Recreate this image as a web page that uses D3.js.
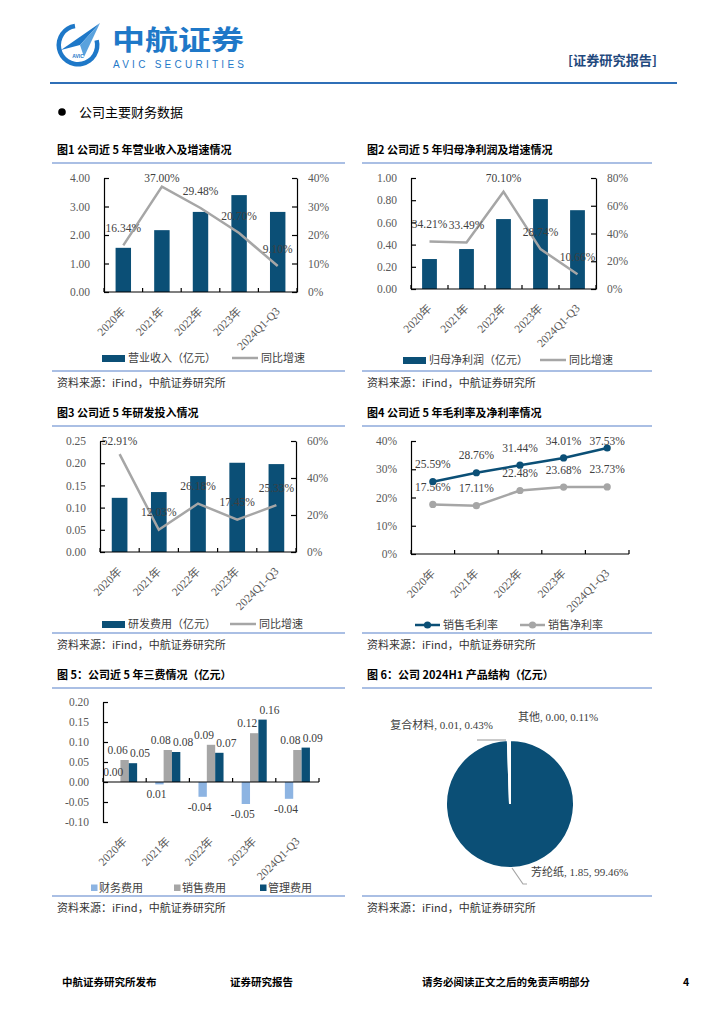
<!DOCTYPE html>
<html>
<head>
<meta charset="utf-8">
<script src="https://cdn.jsdelivr.net/npm/d3@7"></script>
<style>
  body { margin: 0; background: #fff; }
  svg { display: block; }
</style>
</head>
<body>
<svg id="page" width="724" height="1024"></svg>
<script>
// ---- data ----
const years = ["2020年", "2021年", "2022年", "2023年", "2024Q1-Q3"];

const revenue = [1.55, 2.17, 2.81, 3.40, 2.81];          // 营业收入（亿元）
const revenueGrowth = [16.34, 37.00, 29.48, 20.70, 9.10]; // 同比增速 %

const netProfit = [0.27, 0.36, 0.63, 0.81, 0.71];          // 归母净利润（亿元）
const netProfitGrowth = [34.21, 33.49, 70.10, 28.74, 10.66];

const rdExpense = [0.122, 0.135, 0.171, 0.201, 0.198];     // 研发费用（亿元）
const rdGrowth = [52.91, 12.03, 26.18, 17.45, 25.33];

const grossMargin = [25.59, 28.76, 31.44, 34.01, 37.53];   // 销售毛利率 %
const netMargin = [17.56, 17.11, 22.48, 23.68, 23.73];     // 销售净利率 %

const finExpense = [0.00, -0.006, -0.037, -0.055, -0.042]; // 财务费用
const saleExpense = [0.055, 0.080, 0.093, 0.122, 0.080];   // 销售费用
const mgmtExpense = [0.047, 0.075, 0.073, 0.156, 0.086];   // 管理费用
const finText = ["0.00", "0.01", "-0.04", "-0.05", "-0.04"];
const saleText = ["0.06", "0.08", "0.09", "0.12", "0.08"];
const mgmtText = ["0.05", "0.08", "0.07", "0.16", "0.09"];

const pieNames = ["芳纶纸", "复合材料", "其他"];
const pieValues = ["1.85", "0.01", "0.00"];
const piePct = [99.46, 0.43, 0.11];

// ---- styles ----
const svg = d3.select("#page");
const CN = "'Noto Sans CJK SC', sans-serif";
const NUM = "'Liberation Serif', 'Noto Sans CJK SC', serif";
const dark = "#0b4f76";
const gray = "#a6a6a6";
const lightBlue = "#8db4e2";
const ruleColor = "#8eaadb";

// ---- page header ----
const logo = svg.append("g");
logo.append("path")
    .attr("transform", "translate(78,45)")
    .attr("d", d3.arc().innerRadius(17).outerRadius(21.5).startAngle(Math.PI * 0.42).endAngle(Math.PI * 1.95)())
    .attr("fill", "#1e78c8");
logo.append("path").attr("d", "M61,50 L100,23 L80,45 Z").attr("fill", "#1e78c8");
logo.append("path").attr("d", "M80,45 L100,23 L84,57 Z").attr("fill", "#5aa2dd");
logo.append("text").attr("x", 78).attr("y", 58).attr("text-anchor", "middle")
    .attr("font-family", "'Liberation Sans', sans-serif").attr("font-size", 5).attr("font-weight", "bold")
    .attr("fill", "#1e78c8").text("AVIC");

svg.append("text").attr("x", 112).attr("y", 50)
    .attr("font-family", CN).attr("font-weight", "bold").attr("font-size", 27)
    .attr("textLength", 132).attr("lengthAdjust", "spacingAndGlyphs")
    .attr("fill", "#1e78c8").text("中航证券");
svg.append("text").attr("x", 113).attr("y", 68)
    .attr("font-family", "'Liberation Sans', sans-serif").attr("font-size", 10)
    .attr("textLength", 131).attr("fill", "#1e78c8").text("AVIC SECURITIES");
svg.append("text").attr("x", 568).attr("y", 65)
    .attr("font-family", CN).attr("font-weight", "bold").attr("font-size", 13)
    .attr("textLength", 89).attr("lengthAdjust", "spacingAndGlyphs")
    .attr("fill", "#1f497d").text("[证券研究报告]");
svg.append("line").attr("x1", 50).attr("x2", 677).attr("y1", 83).attr("y2", 83)
    .attr("stroke", "#2f6fb7").attr("stroke-width", 2);

svg.append("circle").attr("cx", 62).attr("cy", 112).attr("r", 3.8).attr("fill", "#000");
svg.append("text").attr("x", 79).attr("y", 117)
    .attr("font-family", CN).attr("font-size", 13).text("公司主要财务数据");

// ---- helpers ----
function frame(x0, x1, titleY, title, srcY) {
    svg.append("text").attr("x", x0 + 5).attr("y", titleY).attr("dy", "0.35em")
        .attr("font-family", CN).attr("font-weight", "bold").attr("font-size", 11).text(title);
    svg.append("line").attr("x1", x0).attr("x2", x1).attr("y1", titleY + 13).attr("y2", titleY + 13)
        .attr("stroke", ruleColor).attr("stroke-width", 1.5);
    svg.append("line").attr("x1", x0).attr("x2", x1).attr("y1", srcY).attr("y2", srcY)
        .attr("stroke", ruleColor).attr("stroke-width", 1.5);
    svg.append("text").attr("x", x0 + 5).attr("y", srcY + 12).attr("dy", "0.35em")
        .attr("font-family", CN).attr("font-size", 11).attr("fill", "#333")
        .text("资料来源：iFind，中航证券研究所");
}

function styleAxis(g) {
    g.select(".domain").attr("stroke", "#000").attr("stroke-width", 1.2);
    g.selectAll(".tick line").attr("stroke", "#000").attr("stroke-width", 1.2);
    g.selectAll(".tick text").attr("fill", "#595959").attr("font-family", NUM).attr("font-size", 11.5);
}

function sideAxis(scale, x, ticks, fmt, right) {
    const ax = (right ? d3.axisRight(scale) : d3.axisLeft(scale))
        .tickValues(ticks).tickFormat(fmt).tickSizeInner(-5).tickSizeOuter(0).tickPadding(right ? 11 : 14);
    const g = svg.append("g").attr("transform", `translate(${x},0)`).call(ax);
    styleAxis(g);
}

function categoryAxis(x, axisY, labelY) {
    const [r0, r1] = x.range();
    svg.append("line").attr("x1", r0).attr("x2", r1).attr("y1", axisY).attr("y2", axisY)
        .attr("stroke", "#000").attr("stroke-width", 1.2);
    svg.selectAll(null).data(d3.range(years.length + 1)).enter().append("line")
        .attr("x1", i => r0 + i * x.step()).attr("x2", i => r0 + i * x.step())
        .attr("y1", axisY).attr("y2", axisY - 4)
        .attr("stroke", "#000").attr("stroke-width", 1.2);
    svg.selectAll(null).data(years).enter().append("text")
        .attr("transform", d => `translate(${x(d) + x.bandwidth() / 2 + 3},${labelY}) rotate(-45)`)
        .attr("text-anchor", "end")
        .attr("font-family", NUM).attr("font-size", 11.5).attr("fill", "#595959")
        .text(d => d);
}

function pct(v) { return v.toFixed(2) + "%"; }

function comboChart(o) {
    const x = d3.scaleBand().domain(years).range([o.left, o.right]).paddingInner(0.6).paddingOuter(0.3);
    const yL = d3.scaleLinear().domain([0, o.barMax]).range([o.bottom, o.top]);
    const yR = d3.scaleLinear().domain([0, o.lineMax]).range([o.bottom, o.top]);

    svg.selectAll(null).data(o.bars).enter().append("rect")
        .attr("x", (d, i) => x(years[i]))
        .attr("y", d => yL(d))
        .attr("width", x.bandwidth())
        .attr("height", d => o.bottom - yL(d))
        .attr("fill", dark);

    sideAxis(yL, o.left, o.barTicks, d => d.toFixed(2), false);
    sideAxis(yR, o.right, o.lineTicks, d => d + "%", true);
    categoryAxis(x, o.bottom, o.bottom + 20);

    const cx = (d, i) => x(years[i]) + x.bandwidth() / 2;
    svg.append("path").datum(o.line)
        .attr("d", d3.line().x(cx).y(d => yR(d)))
        .attr("fill", "none").attr("stroke", gray).attr("stroke-width", 2.5);

    svg.selectAll(null).data(o.line).enter().append("text")
        .attr("x", cx)
        .attr("y", d => Math.max(o.top, yR(d) - 17.5))
        .attr("dy", "0.35em").attr("text-anchor", "middle")
        .attr("font-family", NUM).attr("font-size", 11.5).attr("fill", "#404040")
        .text(pct);

    // legend
    const ly = o.legendY;
    svg.append("rect").attr("x", o.legendX).attr("y", ly - 3).attr("width", 23).attr("height", 7).attr("fill", dark);
    svg.append("text").attr("x", o.legendX + 26).attr("y", ly).attr("dy", "0.35em")
        .attr("font-family", CN).attr("font-size", 11).attr("fill", "#404040").text(o.barName);
    svg.append("line").attr("x1", o.legendX2).attr("x2", o.legendX2 + 26).attr("y1", ly).attr("y2", ly)
        .attr("stroke", gray).attr("stroke-width", 2.5);
    svg.append("text").attr("x", o.legendX2 + 29).attr("y", ly).attr("dy", "0.35em")
        .attr("font-family", CN).attr("font-size", 11).attr("fill", "#404040").text("同比增速");
}

// ---- 图1 ----
frame(52, 345, 150, "图1  公司近 5 年营业收入及增速情况", 371);
comboChart({
    left: 104, right: 297, top: 178, bottom: 292,
    bars: revenue, barMax: 4, barTicks: [0, 1, 2, 3, 4],
    line: revenueGrowth, lineMax: 40, lineTicks: [0, 10, 20, 30, 40],
    barName: "营业收入（亿元）", legendY: 358, legendX: 102, legendX2: 232
});

// ---- 图2 ----
frame(362, 652, 150, "图2  公司近 5 年归母净利润及增速情况", 371);
comboChart({
    left: 411, right: 596, top: 178, bottom: 289,
    bars: netProfit, barMax: 1, barTicks: [0, 0.2, 0.4, 0.6, 0.8, 1.0],
    line: netProfitGrowth, lineMax: 80, lineTicks: [0, 20, 40, 60, 80],
    barName: "归母净利润（亿元）", legendY: 360, legendX: 403, legendX2: 540
});

// ---- 图3 ----
frame(52, 345, 413, "图3  公司近 5 年研发投入情况", 633);
comboChart({
    left: 100, right: 296, top: 441, bottom: 552,
    bars: rdExpense, barMax: 0.25, barTicks: [0, 0.05, 0.10, 0.15, 0.20, 0.25],
    line: rdGrowth, lineMax: 60, lineTicks: [0, 20, 40, 60],
    barName: "研发费用（亿元）", legendY: 624, legendX: 102, legendX2: 230
});

// ---- 图4 ----
frame(362, 652, 413, "图4  公司近 5 年毛利率及净利率情况", 633);
(function () {
    const left = 411, right = 629, top = 441, bottom = 554;
    const x = d3.scaleBand().domain(years).range([left, right]).paddingInner(0.6).paddingOuter(0.3);
    const y = d3.scaleLinear().domain([0, 40]).range([bottom, top]);
    sideAxis(y, left, [0, 10, 20, 30, 40], d => d + "%", false);
    categoryAxis(x, bottom, bottom + 20);
    const cx = (d, i) => x(years[i]) + x.bandwidth() / 2;
    [[netMargin, gray], [grossMargin, dark]].forEach(([vals, color]) => {
        svg.append("path").datum(vals)
            .attr("d", d3.line().x(cx).y(d => y(d)))
            .attr("fill", "none").attr("stroke", color).attr("stroke-width", 2.5);
        svg.selectAll(null).data(vals).enter().append("circle")
            .attr("cx", cx).attr("cy", d => y(d)).attr("r", 3.6).attr("fill", color);
        svg.selectAll(null).data(vals).enter().append("text")
            .attr("x", cx).attr("y", d => Math.max(top, y(d) - 17.5))
            .attr("dy", "0.35em").attr("text-anchor", "middle")
            .attr("font-family", NUM).attr("font-size", 11.5).attr("fill", "#404040")
            .text(pct);
    });
    const ly = 625;
    [[415, dark, "销售毛利率"], [520, gray, "销售净利率"]].forEach(([lx, color, name]) => {
        svg.append("line").attr("x1", lx).attr("x2", lx + 25).attr("y1", ly).attr("y2", ly)
            .attr("stroke", color).attr("stroke-width", 2.5);
        svg.append("circle").attr("cx", lx + 12.5).attr("cy", ly).attr("r", 3.6).attr("fill", color);
        svg.append("text").attr("x", lx + 28).attr("y", ly).attr("dy", "0.35em")
            .attr("font-family", CN).attr("font-size", 11).attr("fill", "#404040").text(name);
    });
})();

// ---- 图5 ----
frame(52, 345, 675, "图 5：公司近 5 年三费情况（亿元）", 896);
(function () {
    const left = 103, right = 319, top = 702, bottom = 822;
    const x0 = d3.scaleBand().domain(years).range([left, right]).paddingInner(0.42).paddingOuter(0.21);
    const groups = ["财务费用", "销售费用", "管理费用"];
    const x1 = d3.scaleBand().domain(groups).range([0, x0.bandwidth()]);
    const y = d3.scaleLinear().domain([-0.10, 0.20]).range([bottom, top]);
    const colors = [lightBlue, gray, dark];
    const series = [finExpense, saleExpense, mgmtExpense];
    const texts = [finText, saleText, mgmtText];
    const shift = [-3, -7, 7];

    series.forEach((vals, s) => {
        svg.selectAll(null).data(vals).enter().append("rect")
            .attr("x", (d, i) => x0(years[i]) + x1(groups[s]))
            .attr("y", d => y(Math.max(0, d)))
            .attr("width", x1.bandwidth())
            .attr("height", d => Math.abs(y(d) - y(0)))
            .attr("fill", colors[s]);
    });
    series.forEach((vals, s) => {
        svg.selectAll(null).data(vals).enter().append("text")
            .attr("x", (d, i) => x0(years[i]) + x1(groups[s]) + x1.bandwidth() / 2 + shift[s])
            .attr("y", d => d < 0 ? y(d) + 10 : y(d) - 10)
            .attr("dy", "0.35em").attr("text-anchor", "middle")
            .attr("font-family", NUM).attr("font-size", 11.5).attr("fill", "#404040")
            .text((d, i) => texts[s][i]);
    });

    sideAxis(y, left, d3.range(-0.10, 0.2001, 0.05), d => d.toFixed(2), false);
    const zero = y(0);
    svg.append("line").attr("x1", left).attr("x2", right).attr("y1", zero).attr("y2", zero)
        .attr("stroke", "#000").attr("stroke-width", 1.2);
    svg.selectAll(null).data(d3.range(years.length + 1)).enter().append("line")
        .attr("x1", i => left + i * x0.step()).attr("x2", i => left + i * x0.step())
        .attr("y1", zero).attr("y2", zero - 4)
        .attr("stroke", "#000").attr("stroke-width", 1.2);
    svg.selectAll(null).data(years).enter().append("text")
        .attr("transform", d => `translate(${x0(d) + x0.bandwidth() / 2 + 3},${bottom + 20}) rotate(-45)`)
        .attr("text-anchor", "end")
        .attr("font-family", NUM).attr("font-size", 11.5).attr("fill", "#595959")
        .text(d => d);

    const ly = 888;
    [[91, 0], [174, 1], [260, 2]].forEach(([lx, s]) => {
        svg.append("rect").attr("x", lx).attr("y", ly - 3.5).attr("width", 6.5).attr("height", 6.5).attr("fill", colors[s]);
        svg.append("text").attr("x", lx + 8).attr("y", ly).attr("dy", "0.35em")
            .attr("font-family", CN).attr("font-size", 11).attr("fill", "#404040").text(groups[s]);
    });
})();

// ---- 图6 ----
frame(362, 652, 675, "图 6：公司 2024H1 产品结构（亿元）", 896);
(function () {
    const cx = 510, cy = 804, r = 64;
    const arcs = d3.pie().sort(null).value(d => d)(piePct);
    const arc = d3.arc().innerRadius(0).outerRadius(r);
    const fills = [dark, "#fff", "#fff"];
    const g = svg.append("g").attr("transform", `translate(${cx},${cy})`);
    g.selectAll("path").data(arcs).enter().append("path")
        .attr("d", arc).attr("fill", (d, i) => fills[i])
        .attr("stroke", "#fff").attr("stroke-width", 2);

    const label = (i) => `${pieNames[i]}, ${pieValues[i]}, ${piePct[i].toFixed(2)}%`;
    const lab = (x, y, anchor, i) => svg.append("text").attr("x", x).attr("y", y).attr("dy", "0.35em")
        .attr("text-anchor", anchor).attr("font-family", NUM).attr("font-size", 11)
        .attr("fill", "#404040").text(label(i));
    lab(cx - 17, cy - r - 15, "end", 1);
    lab(cx + 8, cy - r - 23, "start", 2);
    lab(cx + 21, cy + r + 4, "start", 0);

    svg.append("path").attr("d", `M${cx - 33},${cy - r} H${cx - 4}`)
        .attr("fill", "none").attr("stroke", gray).attr("stroke-width", 1.2);
    svg.append("path").attr("d", `M${cx + 2},${cy + r} L${cx + 13},${cy + r + 16} H${cx + 17}`)
        .attr("fill", "none").attr("stroke", gray).attr("stroke-width", 1.2);
})();

// ---- footer ----
[[62, "中航证券研究所发布"], [230, "证券研究报告"], [422, "请务必阅读正文之后的免责声明部分"], [683, "4"]]
    .forEach(([x, t]) => {
        svg.append("text").attr("x", x).attr("y", 982).attr("dy", "0.35em")
            .attr("font-family", CN).attr("font-weight", "bold").attr("font-size", 10.5).text(t);
    });
</script>
</body>
</html>
